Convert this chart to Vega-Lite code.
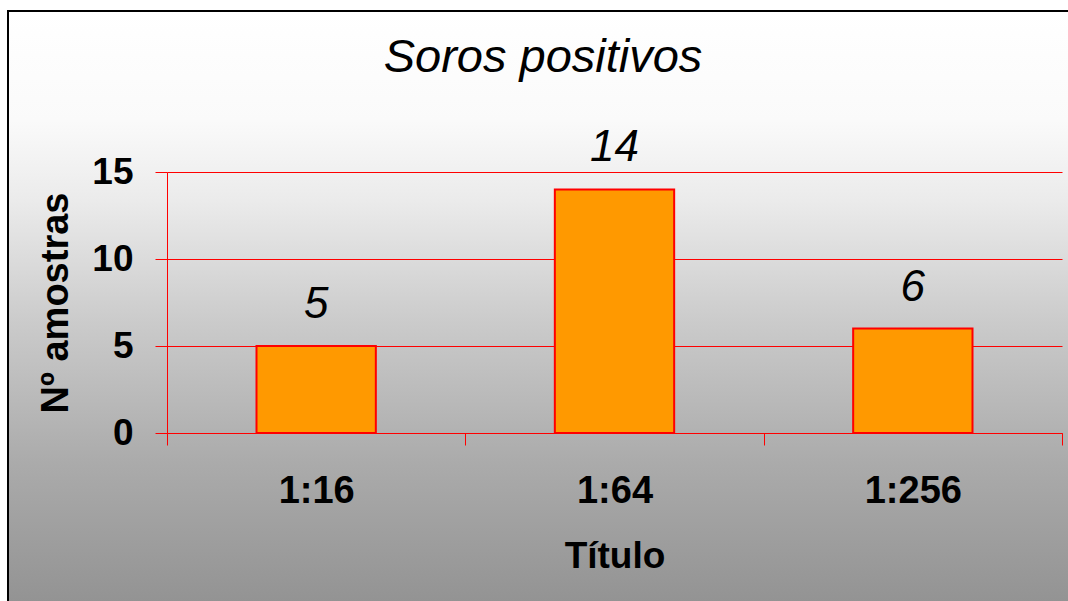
{
  "$schema": "https://vega.github.io/schema/vega-lite/v6.json",
  "width": 1062,
  "height": 592,
  "autosize": {"type": "none"},
  "padding": {"left": 8, "top": 11, "right": 0, "bottom": 0},
  "background": "white",
  "view": {
    "fill": {
      "gradient": "linear",
      "x1": 0, "y1": 0, "x2": 0, "y2": 1,
      "stops": [
        {"offset": 0, "color": "#FFFFFF"},
        {"offset": 0.185, "color": "#FAFAFA"},
        {"offset": 0.32, "color": "#EBEBEB"},
        {"offset": 0.524, "color": "#CBCBCB"},
        {"offset": 0.761, "color": "#ABABAB"},
        {"offset": 1, "color": "#939393"}
      ]
    },
    "stroke": "black",
    "strokeWidth": 2
  },
  "title": {
    "text": "Soros positivos",
    "font": "Liberation Sans",
    "fontSize": 47,
    "fontStyle": "italic",
    "fontWeight": "normal",
    "color": "black",
    "anchor": "middle",
    "frame": "group",
    "offset": 0,
    "baseline": "alphabetic",
    "dy": 108,
    "dx": 4
  },
  "data": {
    "values": [
      {"titulo": "1:16", "n": 5},
      {"titulo": "1:64", "n": 14},
      {"titulo": "1:256", "n": 6}
    ]
  },
  "encoding": {
    "x": {
      "field": "titulo",
      "type": "nominal",
      "sort": null,
      "scale": {"range": [159, 1054], "paddingInner": 0, "paddingOuter": 0},
      "axis": {
        "title": "Título",
        "orient": "bottom",
        "offset": -170,
        "grid": false,
        "domainColor": "#FF0000",
        "domainWidth": 1,
        "tickColor": "#FF0000",
        "tickWidth": 1,
        "tickSize": 12,
        "tickBand": "extent",
        "labelAngle": 0,
        "labelFont": "Liberation Sans",
        "labelFontSize": 38,
        "labelFontWeight": "bold",
        "labelColor": "black",
        "labelPadding": 27,
        "titleFont": "Liberation Sans",
        "titleFontSize": 37,
        "titleFontWeight": "bold",
        "titleColor": "black",
        "titleY": 134,
        "titleBaseline": "alphabetic"
      }
    },
    "y": {
      "field": "n",
      "type": "quantitative",
      "scale": {"domain": [0, 15], "range": [422, 161], "nice": false},
      "axis": {
        "title": "Nº amostras",
        "orient": "left",
        "offset": -159,
        "values": [0, 5, 10, 15],
        "domainColor": "#FF0000",
        "domainWidth": 1,
        "tickColor": "#FF0000",
        "tickWidth": 1,
        "tickSize": 12,
        "grid": true,
        "gridColor": "#FF0000",
        "gridWidth": 1,
        "gridOpacity": 1,
        "labelFont": "Liberation Sans",
        "labelFontSize": 37,
        "labelFontWeight": "bold",
        "labelColor": "black",
        "labelPadding": 22,
        "titleFont": "Liberation Sans",
        "titleFontSize": 38,
        "titleFontWeight": "bold",
        "titleColor": "black",
        "titleAngle": -90,
        "titleX": -100,
        "titleBaseline": "alphabetic",
        "titleAlign": "center"
      }
    }
  },
  "layer": [
    {
      "mark": {
        "type": "bar",
        "width": {"band": 0.4},
        "fill": "#FF9900",
        "stroke": "#FF0000",
        "strokeWidth": 2
      }
    },
    {
      "mark": {
        "type": "text",
        "font": "Liberation Sans",
        "fontSize": 44,
        "fontStyle": "italic",
        "baseline": "alphabetic",
        "dy": -28,
        "color": "black"
      },
      "encoding": {"text": {"field": "n", "type": "quantitative"}}
    }
  ]
}
